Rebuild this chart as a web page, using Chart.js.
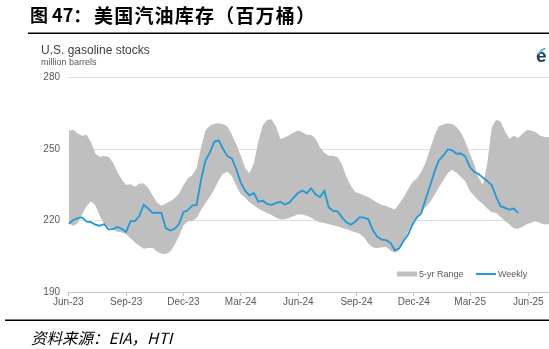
<!DOCTYPE html>
<html>
<head>
<meta charset="utf-8">
<script src="https://cdn.jsdelivr.net/npm/chart.js@4.4.0/dist/chart.umd.min.js"></script>
<style>
  html, body { margin: 0; padding: 0; background: #fff; }
  #wrap { width: 549px; height: 349px; }
</style>
</head>
<body>
<div id="wrap"><canvas id="myChart" width="549" height="349"></canvas></div>
<script>
// weekly points, week 0 = early Jun 2023
const weekly = [
  218.7, 220.2, 221.0, 221.3, 219.5, 219.3, 218.3, 217.8, 218.5, 216.3,
  216.4, 217.3, 216.5, 215.2, 219.7, 219.7, 222.0, 226.6, 225.0, 223.2,
  223.3, 223.2, 216.8, 215.8, 216.5, 218.5, 223.5, 224.3, 226.3, 226.5,
  237.0, 245.2, 248.5, 253.0, 253.6, 250.0, 247.0, 246.0, 241.5, 236.0,
  232.5, 230.5, 231.5, 227.9, 228.3, 227.0, 226.6, 227.3, 227.9, 226.7,
  227.5, 229.5, 231.5, 232.5, 231.5, 233.5, 231.0, 229.8, 232.4, 225.5,
  224.0, 223.8, 221.3, 219.2, 218.2, 219.5, 221.4, 221.2, 220.4, 216.0,
  213.2, 212.0, 211.8, 210.6, 207.5, 208.3, 211.5, 214.0, 218.3, 221.2,
  223.0, 229.0, 234.5, 240.5, 245.2, 247.2, 249.8, 249.5, 248.0, 248.1,
  246.8, 242.5, 240.4, 239.5, 238.0, 236.5, 234.8, 230.0, 226.0, 225.3,
  224.6, 225.0, 223.2
];
const rangeHigh = [
  257.7, 258.0, 256.5, 255.6, 256.0, 253.0, 248.0, 246.7, 247.1, 246.7,
  244.3, 240.5, 237.2, 234.9, 235.2, 234.2, 235.5, 235.5, 233.6, 230.5,
  227.6, 226.2, 227.1, 228.1, 229.3, 231.2, 234.8, 237.7, 239.0, 242.0,
  250.6, 257.8, 259.8, 260.6, 260.8, 260.4, 259.4, 256.0, 252.0, 247.4,
  242.0, 239.8, 244.0, 253.0, 260.0, 262.2, 262.5, 259.5, 254.2, 254.8,
  255.8, 256.8, 257.8, 257.0, 256.0, 256.0, 254.3, 250.7, 248.4, 247.2,
  247.2, 246.5, 243.5, 238.4, 234.6, 232.0, 231.3, 230.5, 229.8, 228.7,
  227.5, 226.6, 226.1, 225.4, 224.6, 227.0, 229.8, 233.0, 236.2, 237.6,
  240.5, 244.3, 250.0, 255.7, 259.5, 260.3, 260.8, 260.5, 259.2, 257.0,
  253.0, 248.2, 243.7, 238.0, 235.0, 244.0, 259.0, 262.3, 261.5, 257.4,
  254.3, 255.6, 254.6, 256.5, 258.0, 257.8, 257.0, 255.6, 255.0, 255.0
];
const rangeLow = [
  219.0, 217.7, 219.0, 222.5, 226.0, 228.0, 226.5, 222.0, 218.5, 217.3,
  216.1, 215.3, 215.0, 214.2, 212.6, 210.8, 209.4, 208.1, 208.5, 208.6,
  207.0, 206.1, 205.9, 207.0, 209.8, 213.5, 217.9, 219.7, 219.8, 221.0,
  224.4, 227.2, 230.0, 233.0, 236.8, 239.6, 240.5, 238.7, 234.5, 231.1,
  229.6, 227.7, 226.4, 225.0, 224.0, 223.1, 222.3, 221.3, 220.4, 220.5,
  221.0, 221.8, 222.5, 222.5, 222.0, 221.2, 220.0, 219.3, 218.9, 218.4,
  218.0, 217.5, 217.0, 216.4, 215.7, 215.1, 214.4, 213.0, 210.3, 208.8,
  208.4, 208.8, 208.9, 207.4, 206.5, 207.5, 211.5, 215.3, 218.4, 221.2,
  223.7, 225.6, 227.8, 230.7, 233.9, 236.9, 239.8, 241.3, 240.0, 238.3,
  236.5, 232.5, 230.3, 228.4, 226.9, 225.0, 223.5, 223.2, 221.5, 219.8,
  218.4, 216.8, 216.5, 217.4, 218.4, 219.2, 219.7, 219.0, 218.3, 218.5
];
const quarterLabels = ['Jun-23', 'Sep-23', 'Dec-23', 'Mar-24', 'Jun-24', 'Sep-24', 'Dec-24', 'Mar-25', 'Jun-25'];
const quarterWeeks = [-0.14, 13, 26, 39, 52.1, 65.3, 78.3, 91.1, 104.3];
const yTicks = [190, 220, 250, 280];

const toPts = arr => arr.map((v, i) => ({ x: i, y: v }));

const BLUE = '#1f9ad6';
const BAND = '#bfbfbf';
const LATIN = '"Liberation Sans", Arial, sans-serif';
const CJK = '"Noto Sans CJK SC", "Noto Sans", sans-serif';

const extras = {
  id: 'extras',
  beforeDraw(chart) {
    const c = chart.ctx;
    c.save();
    c.fillStyle = '#fff';
    c.fillRect(0, 0, chart.width, chart.height);
    c.restore();
  },
  afterDraw(chart) {
    const c = chart.ctx;
    c.save();
    // title
    c.fillStyle = '#000';
    c.textBaseline = 'middle';
    c.font = 'bold 18px ' + CJK;
    c.fillText('图 47：', 30, 15.5);
    c.font = 'bold 19px ' + CJK;
    c.letterSpacing = '1.2px';
    c.fillText('美国汽油库存（百万桶）', 94, 15.5);
    c.letterSpacing = '0px';
    c.fillRect(28, 32.5, chart.width - 28, 1.5);

    // header
    c.fillStyle = '#404040';
    c.font = '12px ' + LATIN;
    c.fillText('U.S. gasoline stocks', 41, 50.5);
    c.fillStyle = '#595959';
    c.font = '9px ' + LATIN;
    c.fillText('million barrels', 41, 63);

    // eia mark (cut at the edge)
    c.fillStyle = '#213a57';
    c.font = 'bold 19px ' + LATIN;
    c.fillText('e', 536, 57);
    c.strokeStyle = '#3aa8dc';
    c.lineWidth = 1.5;
    c.beginPath();
    c.arc(549, 60, 12, Math.PI * 1.15, Math.PI * 1.4);
    c.stroke();

    // legend
    c.fillStyle = BAND;
    c.fillRect(397, 271.5, 20, 5);
    c.strokeStyle = BLUE;
    c.lineWidth = 2;
    c.beginPath();
    c.moveTo(476, 274);
    c.lineTo(496, 274);
    c.stroke();
    c.fillStyle = '#595959';
    c.font = '9px ' + LATIN;
    c.fillText('5-yr Range', 419, 274.5);
    c.fillText('Weekly', 498, 274.5);

    // bottom rule + source
    c.fillStyle = '#000';
    c.fillRect(5, 319.5, chart.width - 5, 1.5);
    c.font = 'italic 15.5px ' + CJK;
    c.fillText('资料来源：EIA，HTI', 31, 338);
    c.restore();
  }
};

const chart = new Chart(document.getElementById('myChart').getContext('2d'), {
  type: 'line',
  data: {
    datasets: [
      {
        label: 'Weekly',
        data: toPts(weekly),
        borderColor: BLUE,
        borderWidth: 1.8,
        pointRadius: 0,
        fill: false,
        order: 0
      },
      {
        label: '5-yr Range',
        data: toPts(rangeHigh),
        borderWidth: 0,
        borderColor: BAND,
        backgroundColor: BAND,
        pointRadius: 0,
        fill: '+1',
        order: 1
      },
      {
        label: 'low',
        data: toPts(rangeLow),
        borderWidth: 0,
        borderColor: BAND,
        pointRadius: 0,
        fill: false,
        order: 2
      }
    ]
  },
  options: {
    responsive: false,
    animation: false,
    devicePixelRatio: 1,
    layout: { padding: { left: 43, top: 77.5, right: 0, bottom: 37 } },
    plugins: { legend: { display: false }, tooltip: { enabled: false } },
    scales: {
      x: {
        type: 'linear',
        min: -0.2,
        max: 109,
        afterBuildTicks(scale) {
          scale.ticks = quarterWeeks.map(v => ({ value: v }));
        },
        afterFit(scale) { scale.height = 20; },
        grid: { drawOnChartArea: false, drawTicks: true, tickLength: 4, color: '#c4c4c4' },
        border: { display: true, color: '#c4c4c4', width: 1 },
        ticks: {
          autoSkip: false,
          maxRotation: 0,
          padding: 0,
          color: '#595959',
          font: { family: LATIN, size: 10 },
          callback: (v, i) => quarterLabels[i]
        }
      },
      y: {
        min: 190,
        max: 280,
        afterBuildTicks(scale) {
          scale.ticks = yTicks.map(v => ({ value: v }));
        },
        afterFit(scale) { scale.width = 25; },
        grid: {
          drawTicks: false,
          color: c => (c.tick && c.tick.value === 190) ? 'rgba(0,0,0,0)' : '#dedede'
        },
        border: { display: false },
        ticks: {
          padding: 8,
          color: '#595959',
          font: { family: LATIN, size: 10 }
        }
      }
    }
  },
  plugins: [extras]
});
</script>
</body>
</html>
